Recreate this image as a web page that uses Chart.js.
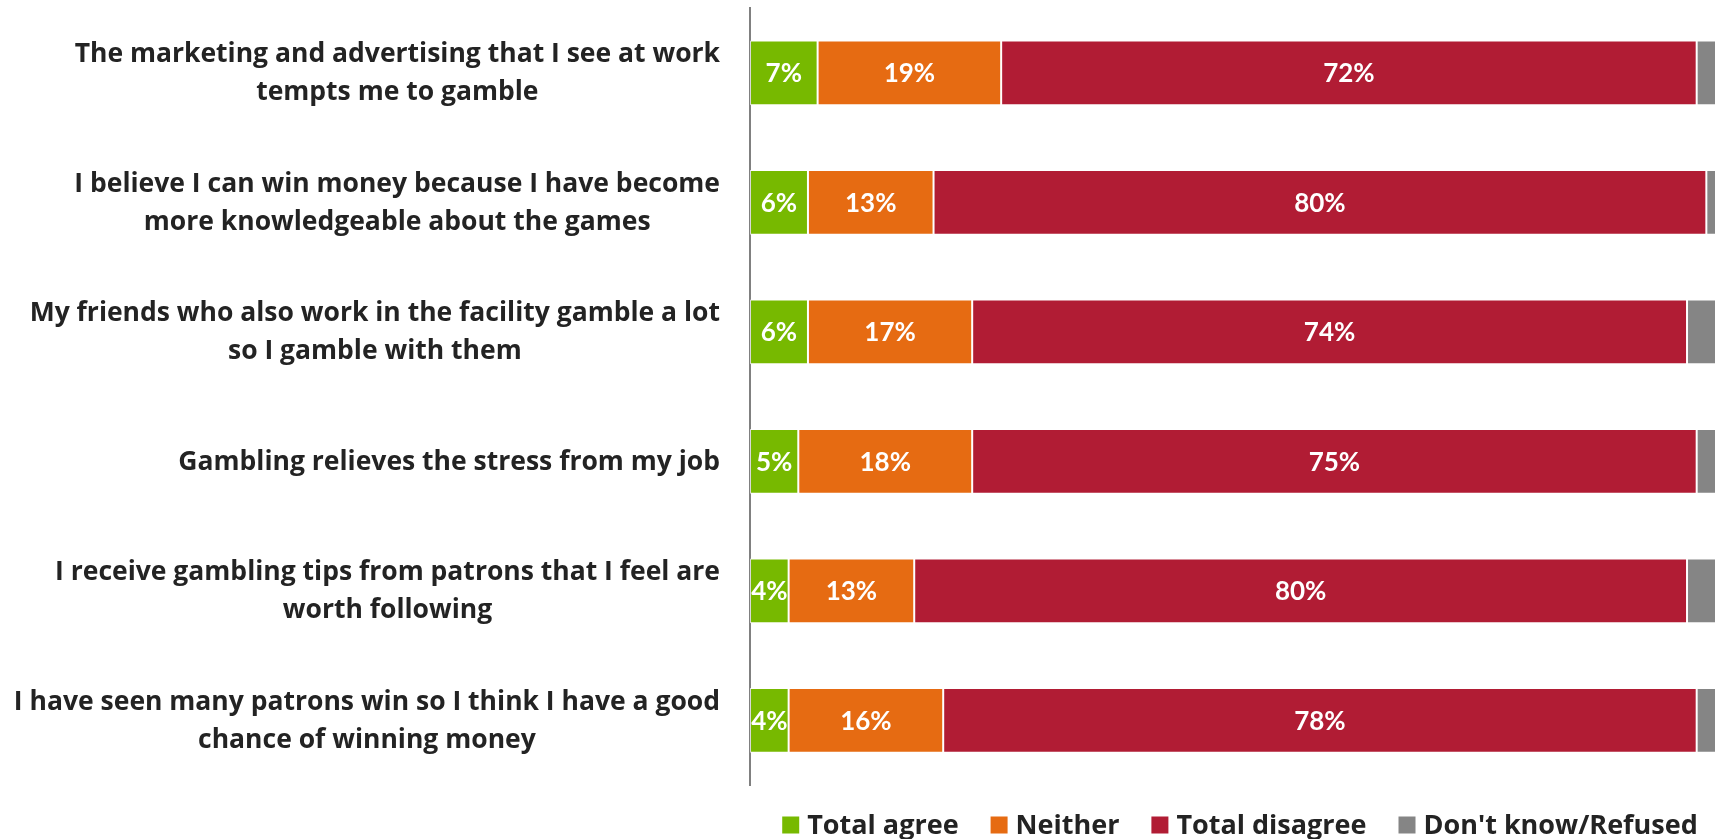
<!DOCTYPE html>
<html>
<head>
<meta charset="utf-8">
<script src="https://cdn.jsdelivr.net/npm/chart.js@4"></script>
<style>
  html, body { margin: 0; padding: 0; background: #ffffff; }
  #wrap { width: 1719px; height: 839px; position: relative; }
</style>
</head>
<body>
<div id="wrap"><canvas id="chart"></canvas></div>
<script>
// Survey statements (each entry = lines of the axis label)
const statements = [
  ["The marketing and advertising that I see at work", "tempts me to gamble"],
  ["I believe I can win money because I have become", "more knowledgeable about the games"],
  ["My friends who also work in the facility gamble a lot", "so I gamble with them"],
  ["Gambling relieves the stress from my job"],
  ["I receive gambling tips from patrons that I feel are", "worth following"],
  ["I have seen many patrons win so I think I have a good", "chance of winning money"]
];

// Response shares, percent
const totalAgree    = [7, 6, 6, 5, 4, 4];
const neither       = [19, 13, 17, 18, 13, 16];
const totalDisagree = [72, 80, 74, 75, 80, 78];
const dontKnow      = [2, 1, 3, 2, 3, 2];

const seriesNames  = ["Total agree", "Neither", "Total disagree", "Don't know/Refused"];
const seriesColors = ["#77b900", "#e66b12", "#b11c34", "#858585"];
const labelledSeries = [0, 1, 2];

const TEXT_FONT = "'Open Sans', Lato, sans-serif";
const VALUE_FONT = "Lato, 'Open Sans', sans-serif";
const TEXT_COLOR = "#232323";

// Multi-line category labels: each block right-aligned to the axis, lines centered within the block
const categoryLabels = {
  id: "categoryLabels",
  afterDraw(chart) {
    const ctx = chart.ctx;
    const y = chart.scales.y;
    const blockRight = chart.chartArea.left - 30;
    const lineH = 38;
    ctx.save();
    ctx.font = "bold 26.5px " + TEXT_FONT;
    ctx.fillStyle = TEXT_COLOR;
    ctx.textAlign = "center";
    ctx.textBaseline = "middle";
    statements.forEach((lines, i) => {
      const cy = y.getPixelForTick(i);
      const widest = Math.max(...lines.map(l => ctx.measureText(l).width));
      const cx = blockRight - widest / 2;
      const top = cy - (lines.length - 1) * lineH / 2 + 1;
      lines.forEach((l, k) => ctx.fillText(l, cx, top + k * lineH));
    });
    ctx.restore();
  }
};

// Percent labels inside the bar segments
const segmentLabels = {
  id: "segmentLabels",
  afterDatasetsDraw(chart) {
    const ctx = chart.ctx;
    ctx.save();
    ctx.font = "bold 26px " + VALUE_FONT;
    ctx.fillStyle = "#ffffff";
    ctx.textAlign = "center";
    ctx.textBaseline = "middle";
    labelledSeries.forEach(di => {
      const meta = chart.getDatasetMeta(di);
      meta.data.forEach((bar, i) => {
        const v = chart.data.datasets[di].data[i];
        const cx = (bar.x + bar.base) / 2;
        ctx.fillText(v + "%", cx, bar.y + 1);
      });
    });
    ctx.restore();
  }
};

// Legend row beneath the plot, centered on the plot area
const bottomLegend = {
  id: "bottomLegend",
  afterDraw(chart) {
    const ctx = chart.ctx;
    const box = 17, gapText = 8, gapItem = 32;
    const cy = 825;
    ctx.save();
    ctx.font = "bold 27px " + TEXT_FONT;
    ctx.textBaseline = "middle";
    ctx.textAlign = "left";
    const widths = seriesNames.map(n => ctx.measureText(n).width);
    const total = widths.reduce((a, w) => a + box + gapText + w, 0) + gapItem * (seriesNames.length - 1);
    const area = chart.chartArea;
    let x = (area.left + area.right) / 2 + 7 - total / 2;
    seriesNames.forEach((n, i) => {
      ctx.fillStyle = seriesColors[i];
      ctx.fillRect(x, cy - box / 2, box, box);
      ctx.fillStyle = TEXT_COLOR;
      ctx.fillText(n, x + box + gapText, cy + 1);
      x += box + gapText + widths[i] + gapItem;
    });
    ctx.restore();
  }
};

const seriesData = [totalAgree, neither, totalDisagree, dontKnow];

new Chart(document.getElementById("chart"), {
  type: "bar",
  data: {
    labels: statements.map(l => l.join(" ")),
    datasets: seriesData.map((d, i) => ({
      label: seriesNames[i],
      data: d,
      backgroundColor: seriesColors[i],
      borderColor: "rgba(255,255,255,0.7)",
      borderWidth: 1,
      borderSkipped: false,
      barPercentage: 0.5,
      categoryPercentage: 1.0
    }))
  },
  options: {
    indexAxis: "y",
    responsive: true,
    maintainAspectRatio: false,
    animation: false,
    layout: { padding: { top: 8, right: 3, bottom: 54, left: 0 } },
    plugins: {
      legend: { display: false },
      tooltip: { enabled: false }
    },
    scales: {
      x: {
        stacked: true,
        min: 0,
        max: 100,
        display: false
      },
      y: {
        stacked: true,
        grid: { display: false, drawTicks: false },
        border: { display: true, color: "#808080", width: 2 },
        ticks: { display: false },
        afterFit(scale) { scale.width = 750; }
      }
    }
  },
  plugins: [categoryLabels, segmentLabels, bottomLegend]
});
</script>
</body>
</html>
